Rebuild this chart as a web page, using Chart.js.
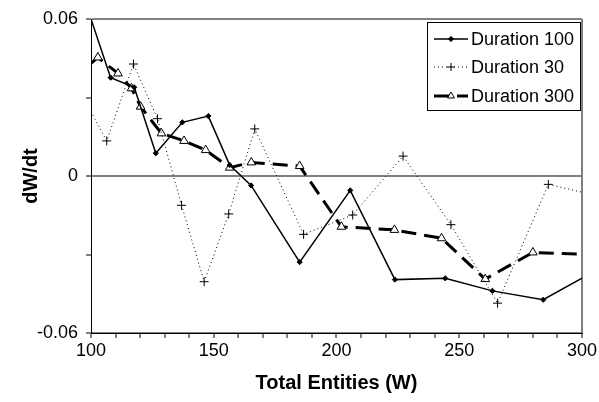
<!DOCTYPE html>
<html>
<head>
<meta charset="utf-8">
<script src="https://cdn.jsdelivr.net/npm/chart.js@4/dist/chart.umd.min.js"></script>
<style>
body{margin:0;background:#fff;}
</style>
</head>
<body>
<canvas id="c" width="599" height="402"></canvas>
<script>
// values
const seriesNames = ['Duration 100', 'Duration 30', 'Duration 300'];

const d100X = [100, 108, 117.6, 126.4, 137.2, 147.8, 156.5, 165.2, 185, 205.6, 223.8, 244.3, 263.5, 284.2, 300];
const d100Y = [0.06, 0.0376, 0.0339, 0.0087, 0.0205, 0.0229, 0.0042, -0.0036, -0.0329, -0.0055, -0.0396, -0.0391, -0.0439, -0.0473, -0.039];

const d30X = [100, 106.4, 117.3, 127.1, 136.9, 146.1, 156.1, 166.7, 186.6, 206.6, 227.1, 246.6, 265.6, 286.3, 300];
const d30Y = [0.0246, 0.0134, 0.0428, 0.0219, -0.0112, -0.0404, -0.0145, 0.018, -0.0223, -0.0149, 0.0076, -0.0186, -0.0486, -0.0032, -0.0062];

const d300X = [100, 102.8, 111, 116.5, 120.2, 128.7, 137.9, 146.7, 156.5, 165.3, 185, 202, 223.6, 242.8, 260.6, 280, 300];
const d300Y = [0.043, 0.0453, 0.0392, 0.0335, 0.0265, 0.0163, 0.0134, 0.0099, 0.0032, 0.0052, 0.0038, -0.0194, -0.0206, -0.0238, -0.0394, -0.0292, -0.0299];

const xMin = 100, xMax = 300;
const yMin = -0.06, yMax = 0.06;

const fontFamily = '"Liberation Sans", Arial, sans-serif';

function toPoints(xs, ys) {
    let pts = [];
    for (let i = 0; i < xs.length; i++) {
        pts.push({x: xs[i], y: ys[i]});
    }
    return pts;
}

// no marker where the line just runs into the axis edge
function edgeRadius(r) {
    return function (ctx) {
        let p = ctx.raw;
        if (!p) return r;
        return (p.x <= xMin || p.x >= xMax) ? 0 : r;
    };
}

const legendBox = {
    id: 'legendBox',
    afterDatasetsDraw(chart) {
        const ctx = chart.ctx;
        const left = 427, top = 22, right = 581, bottom = 111;
        ctx.save();
        ctx.fillStyle = '#fff';
        ctx.fillRect(left, top, right - left, bottom - top);
        ctx.strokeStyle = '#000';
        ctx.lineWidth = 1;
        ctx.strokeRect(left + 0.5, top + 0.5, right - left - 1, bottom - top - 1);
        const rows = [39, 67, 96];
        chart.data.datasets.forEach(function (ds, i) {
            const y = rows[i];
            ctx.save();
            ctx.strokeStyle = ds.borderColor;
            ctx.lineWidth = ds.borderWidth;
            ctx.setLineDash(ds.borderDash || []);
            ctx.beginPath();
            ctx.moveTo(434, y);
            ctx.lineTo(468, y);
            ctx.stroke();
            ctx.restore();
            ctx.save();
            ctx.fillStyle = ds.pointBackgroundColor;
            ctx.strokeStyle = ds.pointBorderColor;
            ctx.lineWidth = 1;
            ctx.setLineDash([]);
            Chart.helpers.drawPoint(ctx, {
                pointStyle: ds.pointStyle,
                radius: ds.legendRadius,
                borderWidth: 1,
                rotation: 0
            }, 451, y);
            ctx.restore();
            ctx.fillStyle = '#000';
            ctx.font = '18px ' + fontFamily;
            ctx.textBaseline = 'middle';
            ctx.textAlign = 'left';
            ctx.fillText(ds.label, 471, y + 1);
        });
        ctx.restore();
    }
};

const ctx = document.getElementById('c').getContext('2d');
const myChart = new Chart(ctx, {
    type: 'line',
    data: {
        datasets: [{
            label: seriesNames[0],
            data: toPoints(d100X, d100Y),
            borderColor: '#000',
            backgroundColor: '#000',
            borderWidth: 1.5,
            pointStyle: 'rectRot',
            pointRadius: edgeRadius(2.6),
            legendRadius: 2.6,
            pointBackgroundColor: '#000',
            pointBorderColor: '#000',
            pointBorderWidth: 1
        }, {
            label: seriesNames[1],
            data: toPoints(d30X, d30Y),
            borderColor: '#000',
            backgroundColor: '#000',
            borderWidth: 1,
            borderDash: [1, 3],
            pointStyle: 'cross',
            pointRadius: edgeRadius(4.5),
            legendRadius: 4,
            pointBackgroundColor: '#000',
            pointBorderColor: '#000',
            pointBorderWidth: 1
        }, {
            label: seriesNames[2],
            data: toPoints(d300X, d300Y),
            borderColor: '#000',
            backgroundColor: '#fff',
            borderWidth: 3,
            borderDash: [15, 8],
            pointStyle: 'triangle',
            pointRadius: edgeRadius(5),
            legendRadius: 4,
            pointBackgroundColor: '#fff',
            pointBorderColor: '#000',
            pointBorderWidth: 1
        }]
    },
    options: {
        responsive: false,
        animation: false,
        layout: {padding: {left: 0, right: 16, top: 19, bottom: 0}},
        plugins: {
            legend: {display: false},
            tooltip: {enabled: false}
        },
        scales: {
            x: {
                type: 'linear',
                min: xMin,
                max: xMax,
                afterFit: function (s) { s.height = 69; },
                ticks: {
                    stepSize: 10,
                    autoSkip: false,
                    maxRotation: 0,
                    padding: 2,
                    color: '#000',
                    font: {family: fontFamily, size: 18},
                    callback: function (v) { return v % 50 === 0 ? String(v) : ''; }
                },
                grid: {
                    color: function (c) { return (c.tick && c.tick.value === xMax) ? '#808080' : 'rgba(0,0,0,0)'; },
                    lineWidth: 2,
                    tickColor: '#000',
                    tickLength: 5,
                    tickWidth: 1
                },
                border: {color: '#000', width: 1},
                title: {
                    display: true,
                    text: 'Total Entities (W)',
                    color: '#000',
                    font: {family: fontFamily, size: 20, weight: 'bold'},
                    padding: {top: 0, bottom: 7}
                }
            },
            y: {
                min: yMin,
                max: yMax,
                afterFit: function (s) { s.width = 91; },
                ticks: {
                    stepSize: 0.03,
                    autoSkip: false,
                    padding: 8,
                    color: '#000',
                    font: {family: fontFamily, size: 18},
                    callback: function (v) {
                        let k = Math.round(v * 100);
                        if (k % 6 !== 0) return '';
                        return k === 0 ? '0' : (k / 100).toFixed(2);
                    }
                },
                grid: {
                    color: function (c) {
                        if (!c.tick) return 'rgba(0,0,0,0)';
                        return Math.round(c.tick.value * 100) % 6 === 0 ? '#808080' : 'rgba(0,0,0,0)';
                    },
                    lineWidth: 2,
                    tickColor: '#000',
                    tickLength: 5,
                    tickWidth: 1
                },
                border: {color: '#000', width: 1},
                title: {
                    display: true,
                    text: 'dW/dt',
                    color: '#000',
                    font: {family: fontFamily, size: 20, weight: 'bold'},
                    padding: {top: 19, bottom: 0}
                }
            }
        }
    },
    plugins: [legendBox]
});
</script>
</body>
</html>
